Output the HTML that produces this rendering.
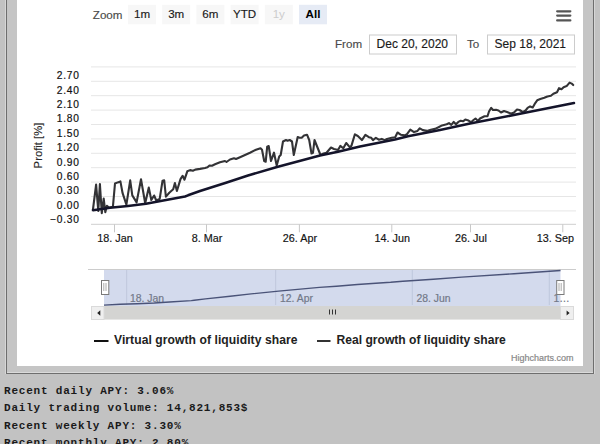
<!DOCTYPE html>
<html><head><meta charset="utf-8"><style>
html,body{margin:0;padding:0}
body{width:600px;height:444px;overflow:hidden;position:relative;background:#c2c2c2;font-family:"Liberation Sans",sans-serif}
svg{position:absolute;left:0;top:0}
text{font-family:"Liberation Sans",sans-serif;stroke-linejoin:round}
.yl{font-size:10.2px;letter-spacing:0.75px;fill:#111;stroke:#111;stroke-width:0.2px}
.xl{font-size:10.8px;fill:#151515;stroke:#151515;stroke-width:0.18px}
.yt{font-size:11.3px;fill:#2a2a2a;stroke:#2a2a2a;stroke-width:0.12px}
.nl{font-size:10.4px;fill:#727888;stroke:#727888;stroke-width:0.2px}
.lg{font-size:12.1px;font-weight:bold;fill:#222;letter-spacing:0.1px}
.cr{font-size:9px;fill:#888;stroke:#888;stroke-width:0.2px}
.zl{font-size:11.6px;fill:#4a4a4a;stroke:#4a4a4a;stroke-width:0.15px}
.bt{font-size:11.6px;fill:#1a1a1a;stroke:#1a1a1a;stroke-width:0.15px}
.bd{font-size:11.6px;fill:#ccc}
.bs{font-size:11.6px;fill:#000;font-weight:bold}
.fl{font-size:11.6px;fill:#4a4a4a;stroke:#4a4a4a;stroke-width:0.15px}
.in{font-size:12px;fill:#1a1a1a;stroke:#1a1a1a;stroke-width:0.15px}
#frame{background:#c5c5c5;position:absolute;left:6px;top:-10px;width:586px;height:383px;border:1px solid #6e6e6e;border-top:none;box-shadow:inset 0 -1px 0 #dadada, 1px 0 0 #d6d6d6, -1px 0 0 #d6d6d6}
pre{position:absolute;left:4px;top:382.6px;margin:0;font-family:"Liberation Mono",monospace;font-weight:bold;font-size:11px;letter-spacing:0.8px;line-height:17.45px;color:#1a1a1a}
</style></head>
<body>
<div id="frame"></div>
<svg width="600" height="444" viewBox="0 0 600 444">
<rect x="17" y="0" width="566" height="366" fill="#fff"/>
<line x1="91" x2="576" y1="66.9" y2="66.9" stroke="#e6e6e6" stroke-width="1"/>
<line x1="91" x2="576" y1="81.3" y2="81.3" stroke="#e6e6e6" stroke-width="1"/>
<line x1="91" x2="576" y1="95.7" y2="95.7" stroke="#e6e6e6" stroke-width="1"/>
<line x1="91" x2="576" y1="110.1" y2="110.1" stroke="#e6e6e6" stroke-width="1"/>
<line x1="91" x2="576" y1="124.5" y2="124.5" stroke="#e6e6e6" stroke-width="1"/>
<line x1="91" x2="576" y1="138.9" y2="138.9" stroke="#e6e6e6" stroke-width="1"/>
<line x1="91" x2="576" y1="153.3" y2="153.3" stroke="#e6e6e6" stroke-width="1"/>
<line x1="91" x2="576" y1="167.7" y2="167.7" stroke="#e6e6e6" stroke-width="1"/>
<line x1="91" x2="576" y1="182.1" y2="182.1" stroke="#e6e6e6" stroke-width="1"/>
<line x1="91" x2="576" y1="196.5" y2="196.5" stroke="#e6e6e6" stroke-width="1"/>
<line x1="91" x2="576" y1="210.9" y2="210.9" stroke="#e6e6e6" stroke-width="1"/>
<line x1="91" x2="576" y1="224.3" y2="224.3" stroke="#cfcfcf" stroke-width="1"/>
<text x="79.7" y="79.1" text-anchor="end" class="yl">2.70</text>
<text x="79.7" y="93.5" text-anchor="end" class="yl">2.40</text>
<text x="79.7" y="107.9" text-anchor="end" class="yl">2.10</text>
<text x="79.7" y="122.3" text-anchor="end" class="yl">1.80</text>
<text x="79.7" y="136.7" text-anchor="end" class="yl">1.50</text>
<text x="79.7" y="151.1" text-anchor="end" class="yl">1.20</text>
<text x="79.7" y="165.5" text-anchor="end" class="yl">0.90</text>
<text x="79.7" y="179.9" text-anchor="end" class="yl">0.60</text>
<text x="79.7" y="194.3" text-anchor="end" class="yl">0.30</text>
<text x="79.7" y="208.7" text-anchor="end" class="yl">0.00</text>
<text x="79.7" y="223.1" text-anchor="end" class="yl">−0.30</text>
<line x1="114.5" x2="114.5" y1="224.3" y2="232.3" stroke="#c8c8c8" stroke-width="1"/>
<text x="115.0" y="242" text-anchor="middle" class="xl">18. Jan</text>
<line x1="206.5" x2="206.5" y1="224.3" y2="232.3" stroke="#c8c8c8" stroke-width="1"/>
<text x="207.0" y="242" text-anchor="middle" class="xl">8. Mar</text>
<line x1="299.4" x2="299.4" y1="224.3" y2="232.3" stroke="#c8c8c8" stroke-width="1"/>
<text x="299.9" y="242" text-anchor="middle" class="xl">26. Apr</text>
<line x1="391.8" x2="391.8" y1="224.3" y2="232.3" stroke="#c8c8c8" stroke-width="1"/>
<text x="392.3" y="242" text-anchor="middle" class="xl">14. Jun</text>
<line x1="470.5" x2="470.5" y1="224.3" y2="232.3" stroke="#c8c8c8" stroke-width="1"/>
<text x="471.0" y="242" text-anchor="middle" class="xl">26. Jul</text>
<line x1="562.8" x2="562.8" y1="224.3" y2="232.3" stroke="#c8c8c8" stroke-width="1"/>
<text x="574" y="242" text-anchor="end" class="xl">13. Sep</text>
<polyline points="92.9,210.0 96.1,184.6 98.3,211.0 99.9,184.0 101.8,213.2 103.7,198.6 105.3,212.2 106.9,205.7 109.1,207.8 112.9,206.8 115.0,183.5 117.7,182.4 120.4,181.4 122.6,193.2 126.4,204.6 130.2,180.3 132.3,195.4 136.6,202.4 141.0,179.2 145.2,203.2 148.8,187.6 151.3,200.0 154.1,195.5 156.3,200.5 159.7,198.9 162.5,180.8 164.2,180.3 165.9,196.6 169.3,192.7 173.2,189.3 174.9,183.1 176.9,191.0 180.5,179.1 182.6,175.8 184.5,179.7 187.3,171.3 190.1,170.1 192.9,170.7 195.2,169.6 200.0,168.9 205.0,168.0 207.5,167.3 209.5,165.5 212.0,165.8 215.0,164.3 220.0,162.3 225.0,161.0 226.5,162.0 230.0,159.5 234.0,158.3 236.0,159.0 240.0,157.2 245.0,155.0 250.0,152.7 256.0,149.7 260.5,148.2 262.0,149.7 264.2,161.0 265.7,161.7 267.2,146.7 268.7,146.0 271.0,161.0 274.0,152.7 276.7,165.5 279.2,156.5 280.7,155.0 283.0,141.5 286.0,140.0 287.5,140.7 289.7,140.0 292.0,141.5 293.8,155.0 297.7,137.0 299.5,137.7 301.7,137.7 304.0,135.5 307.0,134.7 309.2,140.0 311.5,153.5 313.0,152.7 314.5,140.0 320.5,155.0 323.5,153.5 326.5,152.7 331.0,147.5 334.0,149.0 338.0,150.0 340.3,145.9 343.3,148.3 346.2,143.0 349.7,147.1 351.4,145.9 354.9,134.3 357.8,136.0 361.9,140.1 365.4,134.8 368.9,137.2 371.3,137.8 373.0,140.1 375.9,137.8 378.8,139.7 381.8,138.9 384.7,140.1 387.0,138.9 391.7,137.8 395.2,137.2 397.5,132.5 401.0,134.8 404.5,135.4 407.0,134.2 410.3,129.7 414.0,132.1 417.5,130.9 419.8,128.3 422.8,130.1 426.8,130.9 430.9,129.7 435.0,128.9 438.5,127.2 442.0,125.4 446.7,124.3 449.0,123.1 451.3,124.8 453.7,121.9 456.0,124.3 458.3,121.9 460.7,120.8 463.0,121.3 465.3,119.6 467.7,120.2 471.0,122.2 473.5,120.0 475.5,118.5 478.0,121.0 480.0,118.5 482.5,117.2 484.5,116.2 487.5,116.2 489.0,111.5 491.2,107.8 493.0,110.0 496.0,109.8 498.5,110.5 501.0,112.5 504.0,111.0 507.0,112.0 509.5,113.0 511.5,113.5 514.0,112.5 517.0,109.5 519.5,110.0 522.0,111.5 523.0,112.0 525.6,110.5 527.6,107.9 530.1,106.4 532.7,107.4 534.7,103.9 537.2,100.3 540.3,99.1 544.3,97.8 547.4,96.5 550.9,95.8 553.4,93.7 557.0,92.2 559.0,88.2 561.5,89.2 563.6,87.2 566.6,86.1 569.6,82.6 571.7,83.6 573.2,85.1" fill="none" stroke="#333336" stroke-width="2.1" stroke-linejoin="round" stroke-linecap="round"/>
<polyline points="93.0,210.2 110.0,207.8 128.0,206.0 146.0,203.8 162.0,200.8 185.0,196.5 188.0,195.3 200.0,191.0 226.0,182.8 248.0,175.5 277.0,167.0 320.0,155.5 338.0,151.8 360.0,146.5 395.0,139.5 408.0,136.2 440.0,130.0 470.0,123.5 525.0,112.8 574.0,103.0" fill="none" stroke="#14142a" stroke-width="2.5" stroke-linejoin="round" stroke-linecap="round"/>
<text transform="translate(42,145.5) rotate(-90)" text-anchor="middle" class="yt">Profit [%]</text>
<line x1="88" x2="576" y1="269.5" y2="269.5" stroke="#cccccc" stroke-width="1"/>
<rect x="104" y="270" width="456.5" height="36" fill="#d3daed"/>
<line x1="126.7" x2="126.7" y1="270" y2="305" stroke="#bfc7dc" stroke-width="1"/>
<line x1="275.7" x2="275.7" y1="270" y2="305" stroke="#bfc7dc" stroke-width="1"/>
<line x1="412.3" x2="412.3" y1="270" y2="305" stroke="#bfc7dc" stroke-width="1"/>
<line x1="549.3" x2="549.3" y1="270" y2="305" stroke="#bfc7dc" stroke-width="1"/>
<text x="130" y="302" class="nl">18. Jan</text>
<text x="280" y="302" class="nl">12. Apr</text>
<text x="416.5" y="302" class="nl">28. Jun</text>
<text x="553.5" y="302" class="nl">1…</text>
<polyline points="104.0,305.1 120.1,304.3 137.2,303.7 154.3,303.0 169.5,302.0 191.3,300.6 194.2,300.3 205.5,298.9 230.2,296.2 251.1,293.9 278.6,291.1 319.4,287.4 336.5,286.2 357.4,284.5 390.6,282.3 402.9,281.2 433.3,279.2 461.8,277.1 514.0,273.7 560.5,270.5" fill="none" stroke="#4a5378" stroke-width="1.4"/>
<rect x="101.5" y="280.5" width="7.3" height="14" fill="#fff" stroke="#7a7a7a" stroke-width="1"/>
<line x1="103.8" x2="103.8" y1="283" y2="291" stroke="#aaa" stroke-width="1"/>
<line x1="106.0" x2="106.0" y1="283" y2="291" stroke="#aaa" stroke-width="1"/>
<rect x="556.7" y="280.5" width="7.3" height="14" fill="#fff" stroke="#7a7a7a" stroke-width="1"/>
<line x1="559.0" x2="559.0" y1="283" y2="291" stroke="#aaa" stroke-width="1"/>
<line x1="561.2" x2="561.2" y1="283" y2="291" stroke="#aaa" stroke-width="1"/>
<rect x="91" y="306" width="483" height="13.5" fill="#f2f2f2"/>
<rect x="104" y="306" width="456.5" height="13.5" fill="#d4d4d2"/>
<rect x="91.5" y="306.5" width="12.5" height="13" fill="#efefef" stroke="#dadada" stroke-width="1"/>
<rect x="560.5" y="306.5" width="13" height="13" fill="#efefef" stroke="#dadada" stroke-width="1"/>
<polygon points="97.2,313 100.3,310.3 100.3,315.7" fill="#222"/>
<polygon points="569.6,313 566.6,310.4 566.6,315.6" fill="#222"/>
<line x1="329.5" x2="329.5" y1="309.5" y2="314.5" stroke="#333" stroke-width="1"/>
<line x1="332.5" x2="332.5" y1="309.5" y2="314.5" stroke="#333" stroke-width="1"/>
<line x1="335.5" x2="335.5" y1="309.5" y2="314.5" stroke="#333" stroke-width="1"/>
<line x1="94" x2="108.5" y1="341" y2="341" stroke="#111" stroke-width="2"/>
<text x="114" y="344.2" class="lg" style="letter-spacing:0.07px">Virtual growth of liquidity share</text>
<line x1="317" x2="330.5" y1="341" y2="341" stroke="#333" stroke-width="2"/>
<text x="336.5" y="344.2" class="lg" style="letter-spacing:0">Real growth of liquidity share</text>
<text x="573.5" y="361" text-anchor="end" class="cr">Highcharts.com</text>
<text x="92.8" y="18.5" class="zl">Zoom</text>
<rect x="128" y="4.8" width="28" height="19.5" fill="#f7f7f7"/>
<text x="142" y="17.7" text-anchor="middle" class="bt">1m</text>
<rect x="162.2" y="4.8" width="28" height="19.5" fill="#f7f7f7"/>
<text x="176.2" y="17.7" text-anchor="middle" class="bt">3m</text>
<rect x="196.4" y="4.8" width="28" height="19.5" fill="#f7f7f7"/>
<text x="210.4" y="17.7" text-anchor="middle" class="bt">6m</text>
<rect x="230.6" y="4.8" width="28" height="19.5" fill="#f7f7f7"/>
<text x="244.6" y="17.7" text-anchor="middle" class="bt">YTD</text>
<rect x="264.8" y="4.8" width="28" height="19.5" fill="#f7f7f7"/>
<text x="278.8" y="17.7" text-anchor="middle" class="bd">1y</text>
<rect x="299" y="4.8" width="28" height="19.5" fill="#e6ebf5"/>
<text x="313" y="17.7" text-anchor="middle" class="bs">All</text>
<line x1="557.2" x2="570.3" y1="11.3" y2="11.3" stroke="#555" stroke-width="2.3" stroke-linecap="round"/>
<line x1="557.2" x2="570.3" y1="15.6" y2="15.6" stroke="#555" stroke-width="2.3" stroke-linecap="round"/>
<line x1="557.2" x2="570.3" y1="20.4" y2="20.4" stroke="#555" stroke-width="2.3" stroke-linecap="round"/>
<text x="335" y="47.6" class="fl">From</text>
<rect x="369.5" y="35" width="87" height="19" fill="#fff" stroke="#cccccc" stroke-width="1"/>
<text x="412.3" y="48.2" text-anchor="middle" class="in">Dec 20, 2020</text>
<text x="467" y="47.6" class="fl">To</text>
<rect x="487.5" y="35" width="87" height="19" fill="#fff" stroke="#cccccc" stroke-width="1"/>
<text x="530.3" y="48.2" text-anchor="middle" class="in">Sep 18, 2021</text>
</svg>
<pre>Recent daily APY: 3.06%
Daily trading volume: 14,821,853$
Recent weekly APY: 3.30%
Recent monthly APY: 2.80%</pre>
</body></html>
